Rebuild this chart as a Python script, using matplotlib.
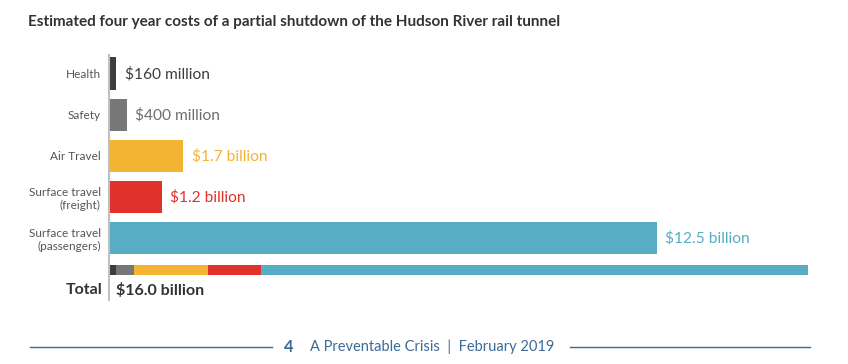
import matplotlib.pyplot as plt
from matplotlib.lines import Line2D

plt.rcParams['font.family'] = ['Lato', 'DejaVu Sans']

categories = ['Health', 'Safety', 'Air Travel', 'Surface travel\n(freight)',
              'Surface travel\n(passengers)']
costs = [0.16, 0.4, 1.7, 1.2, 12.5]  # billions of dollars
value_labels = ['$160 million', '$400 million', '$1.7 billion', '$1.2 billion', '$12.5 billion']
colors = ['#3d3d3d', '#777777', '#f3b433', '#e0312b', '#56adc4']
label_colors = ['#3d3d3d', '#6e6e6e', '#f3b433', '#e0312b', '#56adc4']
total_label = '$16.0 billion'

fig = plt.figure(figsize=(8.48, 3.64), dpi=100)
ax = fig.add_axes([109 / 848, 1 - 300 / 364, (810 - 109) / 848, 245 / 364])

ypos = list(range(len(categories)))
ax.barh(ypos, costs, height=0.8, color=colors)
for y, v, lab, c in zip(ypos, costs, value_labels, label_colors):
    ax.text(v + 0.2, y, lab, color=c, fontsize=11.2, va='center', ha='left')

# stacked total bar
left = 0
for v, c in zip(costs, colors):
    ax.barh(4.78, v, left=left, height=0.25, color=c)
    left += v
ax.text(-0.15, 5.27, 'Total', fontsize=11.5, fontweight='bold', color='#333333',
        ha='right', va='center')
ax.text(0.17, 5.27, total_label, fontsize=11.5, fontweight='bold', color='#333333',
        ha='left', va='center')

ax.set_yticks(ypos)
ax.set_yticklabels(categories, fontsize=8.5, color='#555555')
ax.tick_params(axis='y', length=0, pad=6)
ax.set_xticks([])
ax.set_xlim(0, 16.0)
ax.set_ylim(5.51, -0.46)
for s in ['top', 'right', 'bottom']:
    ax.spines[s].set_visible(False)
ax.spines['left'].set_color('#c0c0c0')
ax.spines['left'].set_linewidth(1.5)

fig.text(28 / 848, 1 - 22 / 364, 'Estimated four year costs of a partial shutdown of the Hudson River rail tunnel',
         fontsize=11, fontweight='bold', color='#333333', va='center', ha='left')

# footer
fy = 1 - 347 / 364
blue = '#3b6a98'
fig.add_artist(Line2D([30 / 848, 272 / 848], [fy, fy], color=blue, lw=1))
fig.add_artist(Line2D([570 / 848, 810 / 848], [fy, fy], color=blue, lw=1))
fig.text(289 / 848, fy, '4', fontsize=12, fontweight='bold', color=blue, va='center', ha='center')
fig.text(310 / 848, fy, 'A Preventable Crisis  |  February 2019', fontsize=10.5, color=blue,
         va='center', ha='left')

fig.savefig('out.png', dpi=100)
